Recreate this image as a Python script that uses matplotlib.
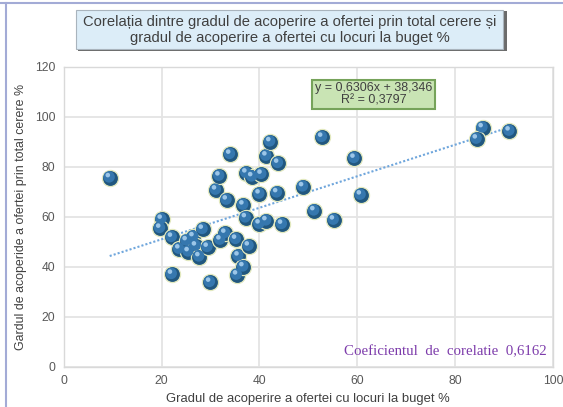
import numpy as np
import matplotlib
matplotlib.use("Agg")
import matplotlib.pyplot as plt
from matplotlib.patches import Rectangle
from matplotlib.lines import Line2D
from matplotlib.transforms import offset_copy

plt.rcParams['font.family'] = ['Liberation Sans', 'DejaVu Sans']

# ---- data ----
x_buget = [9.4, 20.0, 19.7, 22.1, 22.1, 23.6, 25.5, 25.1, 26.5, 27.0,
           27.7, 28.4, 29.4, 29.9, 32.0, 33.0, 31.1, 31.8, 33.3, 34.0,
           35.2, 35.7, 35.4, 36.7, 36.7, 37.2, 37.8, 37.3, 38.5, 40.4,
           40.0, 40.0, 41.4, 41.4, 42.2, 43.8, 43.6, 44.6, 48.9, 52.8,
           59.4, 51.2, 55.2, 60.7, 85.6, 84.4, 91.1]
y_cerere = [75.6, 59.0, 55.4, 51.8, 37.0, 47.1, 46.0, 50.4, 52.0, 48.3,
            44.0, 55.0, 47.8, 33.8, 50.7, 53.4, 70.7, 76.3, 66.7, 85.0,
            51.0, 44.3, 36.7, 40.0, 64.7, 59.6, 48.3, 77.5, 76.0, 77.0,
            69.1, 57.1, 58.4, 84.3, 90.0, 81.4, 69.6, 57.0, 72.0, 91.8,
            83.4, 62.4, 58.7, 68.7, 95.6, 91.1, 94.3]
trend_slope = 0.6306
trend_intercept = 38.346

title = "Corelația dintre gradul de acoperire a ofertei prin total cerere și\ngradul de acoperire a ofertei cu locuri la buget %"
x_label = "Gradul de acoperire a ofertei cu locuri la buget %"
y_label = "Gardul de acoperide a ofertei prin total cerere %"
eq_text = "y = 0,6306x + 38,346\nR² = 0,3797"
coef_text = "Coeficientul  de  corelatie  0,6162"
x_ticks = [0, 20, 40, 60, 80, 100]
y_ticks = [0, 20, 40, 60, 80, 100, 120]

W, H = 563, 407
fig = plt.figure(figsize=(W / 100, H / 100), dpi=100)
fig.patch.set_facecolor('white')

ax = fig.add_axes([63.7 / W, 1 - 366.7 / H, (553 - 63.7) / W, (366.7 - 66.7) / H])
ax.set_xlim(0, 100)
ax.set_ylim(0, 120)
ax.set_xticks(x_ticks)
ax.set_yticks(y_ticks)
ax.grid(True, color='#e4e4e4', linewidth=1.3)
ax.set_axisbelow(True)
for s in ax.spines.values():
    s.set_color('#d9d9d9')
    s.set_linewidth(1.0)
ax.tick_params(length=0, labelsize=8.7, colors='#595959', pad=6)

# trend line
xs = np.array([min(x_buget), max(x_buget)])
ax.plot(xs, trend_slope * xs + trend_intercept, linestyle=(0, (1, 1)),
        color='#6fa6dc', linewidth=1.5, zorder=2)

# spheres (shaded look)
ax.scatter(x_buget, y_cerere, s=135, color='#21577f', edgecolors='#e3e9bf',
           linewidths=0.9, zorder=3)
t_mid = offset_copy(ax.transData, fig=fig, x=-0.6, y=0.8, units='dots')
ax.scatter(x_buget, y_cerere, s=68, color='#3577ae', edgecolors='none',
           zorder=4, transform=t_mid)
t_hi = offset_copy(ax.transData, fig=fig, x=-1.9, y=2.6, units='dots')
ax.scatter(x_buget, y_cerere, s=11, color='#9cc6e8', edgecolors='none',
           zorder=5, transform=t_hi)

ax.set_xlabel(x_label, fontsize=9.4, color='#404040', labelpad=4)
ax.set_ylabel(y_label, fontsize=8.9, color='#404040', labelpad=6)

# equation box
ax.text(373.5 / W, 1 - 94.5 / H, eq_text, transform=fig.transFigure,
        ha='center', va='center', fontsize=9, color='#404040', linespacing=1.0,
        zorder=6,
        bbox=dict(boxstyle='square,pad=0.22', facecolor='#c9e4b4',
                  edgecolor='#76a35a', linewidth=1.5))

# correlation coefficient text
ax.text(546.5 / W, 1 - 352 / H, coef_text, transform=fig.transFigure,
        ha='right', va='center', fontsize=10.7, color='#7d3cab',
        family=['Liberation Serif', 'DejaVu Serif'])

# title box with shadow
fig.patches.append(Rectangle((78 / W, 1 - 51 / H), (505 - 76) / W, 40 / H,
                             transform=fig.transFigure, facecolor='#6b6b6b',
                             edgecolor='none'))
fig.patches.append(Rectangle((76 / W, 1 - 49 / H), (503 - 76) / W, 39 / H,
                             transform=fig.transFigure, facecolor='#dcedf8',
                             edgecolor='#a9b4bd', linewidth=0.8))
fig.text(289.5 / W, 1 - 30 / H, title, ha='center', va='center',
         fontsize=10.6, color='#404040', linespacing=1.1)

# outer frame lines
fig.add_artist(Line2D([0, 1], [1 - 2.5 / H, 1 - 2.5 / H], transform=fig.transFigure,
                      color='#a3abd6', linewidth=1.5))
fig.add_artist(Line2D([6 / W, 6 / W], [0, 1 - 2.5 / H], transform=fig.transFigure,
                      color='#a3abd6', linewidth=1.5))

fig.savefig('out.png', dpi=100)
